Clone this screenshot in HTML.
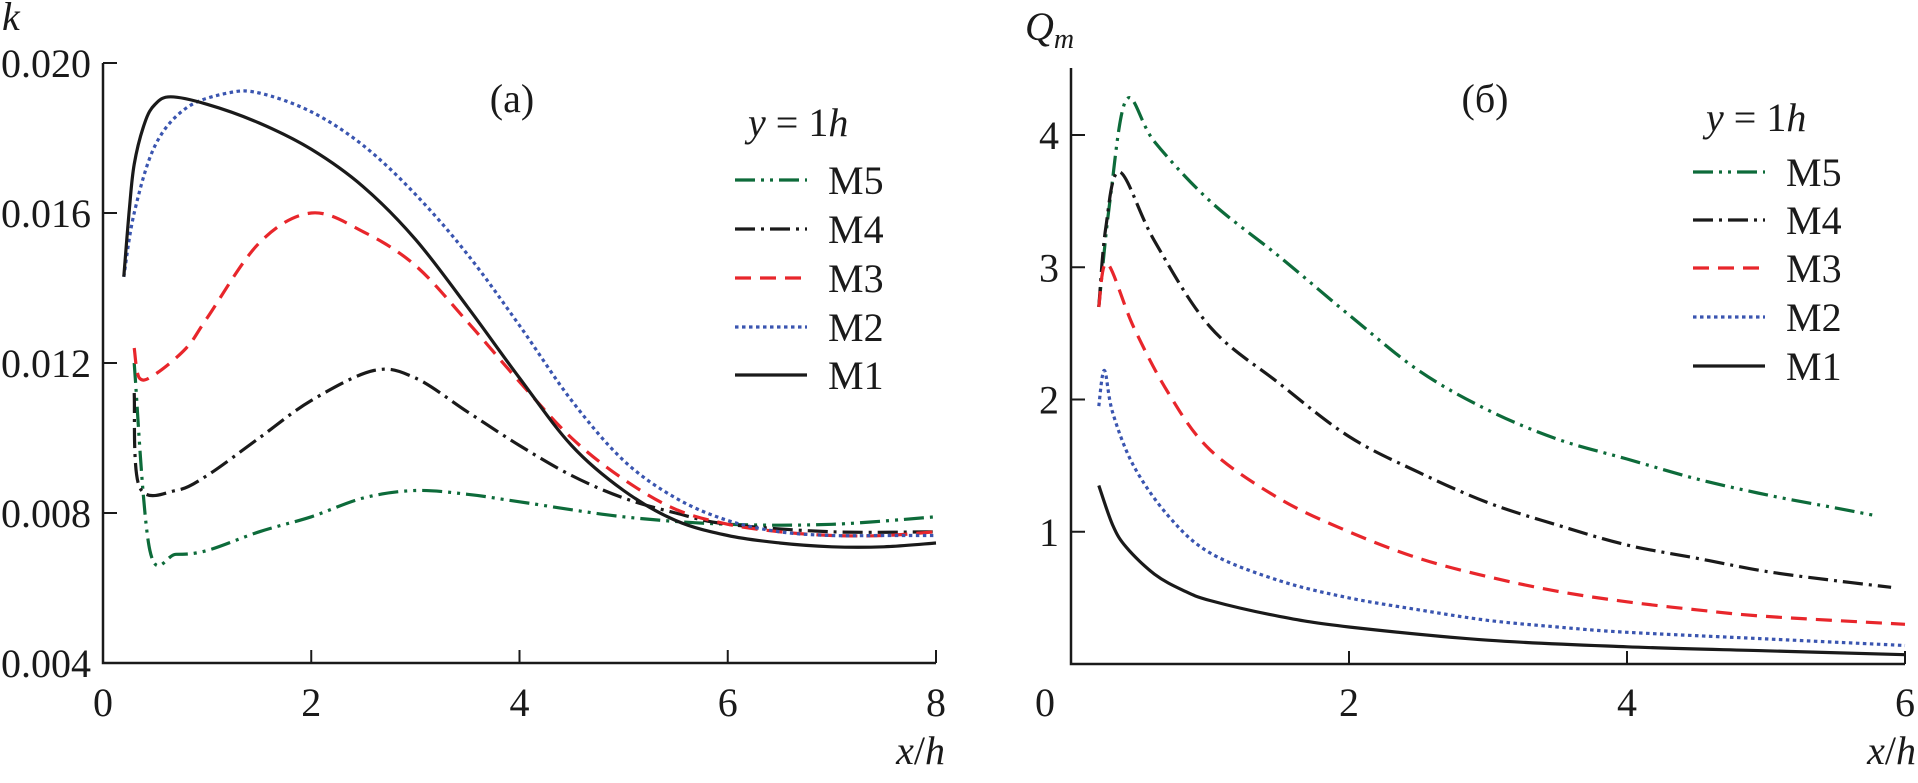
<!DOCTYPE html>
<html><head><meta charset="utf-8"><style>
html,body{margin:0;padding:0;background:#fff;}
svg{display:block;font-family:"Liberation Serif",serif;}
</style></head><body>
<svg id="chart" width="1918" height="783" viewBox="0 0 1918 783" xmlns="http://www.w3.org/2000/svg"></svg>
<script>
// ---- Panel (a): k vs x/h ----
const aM1x=[0.2,0.25,0.3,0.4,0.5,0.65,1,1.5,2,2.5,3,3.5,4,4.5,5,5.5,6,6.5,7,7.5,8];
const aM1y=[0.0143,0.0160,0.0173,0.0184,0.0189,0.0191,0.0189,0.0184,0.0177,0.0167,0.0153,0.0135,0.0116,0.0098,0.0086,0.0078,0.0074,0.0072,0.0071,0.0071,0.0072];
const aM2x=[0.2,0.3,0.5,0.8,1.2,1.5,2,2.5,3,3.5,4,4.5,5,5.5,6,6.5,7,7.5,8];
const aM2y=[0.0143,0.0160,0.0178,0.0188,0.0192,0.0192,0.0187,0.0178,0.0165,0.0149,0.0130,0.0110,0.0094,0.0084,0.0078,0.0075,0.0074,0.0074,0.0074];
const aM3x=[0.3,0.35,0.5,0.8,1,1.5,2,2.5,3,3.5,4,4.5,5,5.5,6,6.5,7,7.5,8];
const aM3y=[0.0124,0.0116,0.0117,0.0124,0.0132,0.0152,0.0160,0.0155,0.0146,0.0131,0.0115,0.0100,0.0089,0.0081,0.0077,0.0075,0.0074,0.0074,0.0075];
const aM4x=[0.3,0.35,0.7,1,1.5,2,2.6,3,3.5,4,4.5,5,5.5,6,7,8];
const aM4y=[0.0112,0.0087,0.0086,0.0090,0.0100,0.0110,0.0118,0.0116,0.0107,0.0098,0.0090,0.0084,0.0080,0.0077,0.0075,0.0075];
const aM5x=[0.3,0.45,0.7,1,1.5,2,2.5,3,3.5,4,5,6,7,8];
const aM5y=[0.0120,0.0070,0.0069,0.0070,0.0075,0.0079,0.0084,0.0086,0.0085,0.0083,0.0079,0.0077,0.0077,0.0079];
const aXTicks=[0,2,4,6,8];
const aYTicks=[0.004,0.008,0.012,0.016,0.020];
const aYLabels=["0.004","0.008","0.012","0.016","0.020"];
// ---- Panel (б): Qm vs x/h ----
const bM1x=[0.2,0.3,0.4,0.6,0.8,1,1.5,2,3,4,5,6];
const bM1y=[1.35,1.05,0.88,0.68,0.56,0.48,0.36,0.28,0.18,0.13,0.10,0.07];
const bM2x=[0.2,0.24,0.3,0.45,0.7,1,1.5,2,2.5,3,3.5,4,5,6];
const bM2y=[1.95,2.22,1.9,1.5,1.12,0.84,0.63,0.5,0.41,0.33,0.28,0.24,0.19,0.14];
const bM3x=[0.2,0.26,0.45,0.7,1,1.5,2,2.5,3,3.5,4,4.5,5,6];
const bM3y=[2.7,3.03,2.55,2.05,1.62,1.25,1.0,0.8,0.66,0.55,0.47,0.41,0.36,0.30];
const bM4x=[0.2,0.25,0.35,0.6,1,1.5,2,2.5,3,3.5,4,4.5,5,5.5,5.9];
const bM4y=[2.7,3.3,3.72,3.2,2.55,2.12,1.72,1.45,1.22,1.05,0.9,0.8,0.7,0.63,0.58];
const bM5x=[0.2,0.28,0.4,0.6,1,1.5,2,2.5,3,3.5,4,4.5,5,5.5,5.8];
const bM5y=[2.7,3.5,4.27,3.95,3.5,3.08,2.64,2.22,1.92,1.7,1.55,1.4,1.28,1.18,1.12];
const bXTicks=[0,2,4,6];
const bYTicks=[1,2,3,4];

const NS="http://www.w3.org/2000/svg";
const svg=document.getElementById('chart');
function el(tag,attrs,parent){const e=document.createElementNS(NS,tag);for(const k in attrs)e.setAttribute(k,attrs[k]);(parent||svg).appendChild(e);return e;}

const axA={x:v=>103+v*104.125, y:v=>663-(v-0.004)*37500, x0:103,x1:936,y0:663,y1:63};
const axB={x:v=>1071+v*139, y:v=>664-v*132.25, x0:1071,x1:1905,y0:664,y1:68};

const styles={
 M1:{c:"#1a1a1a",d:""},
 M2:{c:"#3a55b0",d:"3.5 3.5"},
 M3:{c:"#e8262b",d:"16 9"},
 M4:{c:"#1a1a1a",d:"20 6 3 6"},
 M5:{c:"#0d6b3a",d:"20 6 3 6 3 6"}
};

function pathFrom(ax,xs,ys){
  const p=xs.map((x,i)=>[ax.x(x),ax.y(ys[i])]);
  let d="M"+p[0][0].toFixed(1)+","+p[0][1].toFixed(1);
  for(let i=0;i<p.length-1;i++){
    const p0=p[Math.max(0,i-1)],p1=p[i],p2=p[i+1],p3=p[Math.min(p.length-1,i+2)];
    const c1=[p1[0]+(p2[0]-p0[0])/6,p1[1]+(p2[1]-p0[1])/6];
    const c2=[p2[0]-(p3[0]-p1[0])/6,p2[1]-(p3[1]-p1[1])/6];
    d+=" C"+c1.map(v=>v.toFixed(1))+" "+c2.map(v=>v.toFixed(1))+" "+p2.map(v=>v.toFixed(1));
  }
  return d;
}

function axes(ax,xt,yt,yl,panel){
  const g=el('g',{});
  
  
  const a=el('path',{d:`M${ax.x0},${ax.y1} L${ax.x0},${ax.y0} L${ax.x1},${ax.y0}`,fill:"none",stroke:"#1a1a1a","stroke-width":2.5},g);
  
  
  xt.forEach(v=>{
    const X=ax.x(v);
    if(v!==0){const t=el('line',{x1:X,x2:X,y1:ax.y0,y2:ax.y0-13,stroke:"#1a1a1a","stroke-width":2},g);
      }
    const lbl=el('text',{x:(v===0&&panel==='panel-b')?1045:X,y:716,"font-size":40,"text-anchor":"middle",fill:"#1a1a1a"},g);
    lbl.textContent=String(v);
    
    
  });
  yt.forEach((v,i)=>{
    const Y=ax.y(v);
    const t=el('line',{x1:ax.x0,x2:ax.x0+14,y1:Y,y2:Y,stroke:"#1a1a1a","stroke-width":2},g);
    
    const lbl=el('text',{x:ax.x0-12,y:Y+14,"font-size":40,"text-anchor":"end",fill:"#1a1a1a"},g);
    lbl.textContent=yl?yl[i]:String(v);
    
    
  });
}
axes(axA,aXTicks,aYTicks,aYLabels,'panel-a');
axes(axB,bXTicks,bYTicks,null,'panel-b');

function series(ax,name,xs,ys,panel){
  const s=styles[name];
  const p=el('path',{d:pathFrom(ax,xs,ys),fill:"none",stroke:s.c,"stroke-width":3.2,"stroke-dasharray":s.d,"stroke-linejoin":"round"});
  
  
}
series(axA,'M5',aM5x,aM5y,'panel-a');series(axA,'M4',aM4x,aM4y,'panel-a');series(axA,'M3',aM3x,aM3y,'panel-a');series(axA,'M2',aM2x,aM2y,'panel-a');series(axA,'M1',aM1x,aM1y,'panel-a');
series(axB,'M5',bM5x,bM5y,'panel-b');series(axB,'M4',bM4x,bM4y,'panel-b');series(axB,'M3',bM3x,bM3y,'panel-b');series(axB,'M2',bM2x,bM2y,'panel-b');series(axB,'M1',bM1x,bM1y,'panel-b');

function legend(lx,tx,ys,hx,hy,panel){
  const g=el('g',{});
  
  
  const h=el('text',{x:hx,y:hy,"font-size":40,fill:"#1a1a1a"},g);
  h.innerHTML='<tspan font-style="italic">y</tspan> = 1<tspan font-style="italic">h</tspan>';
  
  
  ['M5','M4','M3','M2','M1'].forEach((n,i)=>{
    const s=styles[n];
    const l=el('line',{x1:lx,x2:lx+72,y1:ys[i],y2:ys[i],stroke:s.c,"stroke-width":3.2,"stroke-dasharray":s.d},g);
    
    
    const t=el('text',{x:tx,y:ys[i]+14,"font-size":40,fill:"#1a1a1a"},g);
    t.textContent=n;
    
    
  });
}
legend(735,828,[180,229,278,327,375],748,136,'panel-a');
legend(1693,1786,[172,220,268,317,366],1706,131,'panel-b');

function txt(x,y,html,name,anchor){
  const t=el('text',{x:x,y:y,"font-size":40,fill:"#1a1a1a","text-anchor":anchor||"start"});
  t.innerHTML=html;
  
  
}
txt(512,112,'(a)','panel-a-label','middle');
txt(1485,112,'(б)','panel-b-label','middle');
txt(2,30,'<tspan font-style="italic">k</tspan>','panel-a-y-axis-title');
txt(1025,40,'<tspan font-style="italic">Q</tspan><tspan font-style="italic" font-size="28" dy="8">m</tspan>','panel-b-y-axis-title');
txt(945,764,'<tspan font-style="italic">x</tspan>/<tspan font-style="italic">h</tspan>','panel-a-x-axis-title','end');
txt(1916,764,'<tspan font-style="italic">x</tspan>/<tspan font-style="italic">h</tspan>','panel-b-x-axis-title','end');
</script>
</body></html>
